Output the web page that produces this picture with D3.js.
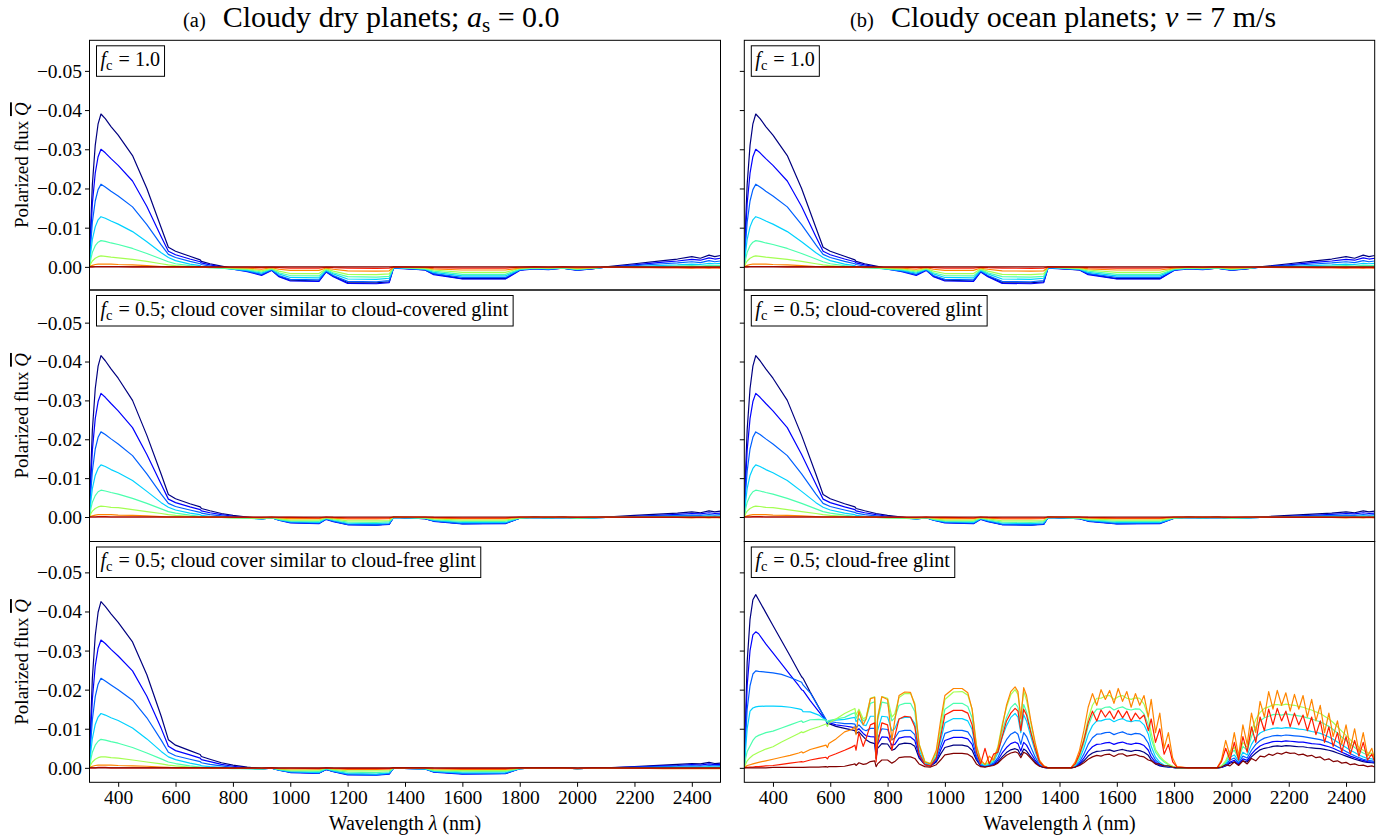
<!DOCTYPE html>
<html><head><meta charset="utf-8">
<script src="https://cdn.jsdelivr.net/npm/d3@7"></script>
<style>
body{margin:0;background:#fff}
svg text{font-family:"Liberation Serif","Times New Roman",serif;fill:#000}
</style></head>
<body><svg id="chart" width="1389" height="838"></svg>
<script>
// ---------------- DATA ----------------
const xTicks = [400,600,800,1000,1200,1400,1600,1800,2000,2200,2400];
const yTicks = [-0.05,-0.04,-0.03,-0.02,-0.01,0.00];
const seriesColors = ["#000080","#0000ff","#0061ff","#00d1ff","#4affad","#a4ff52","#ff8500","#ff1c00","#800000"];

// wavelength grid (nm) for the smoother spectra
const WL_SMOOTH = [300,305,310,320,330,340,355,375,400,450,500,550,575,600,650,686,690,720,760,800,850,900,935,960,1000,1100,1125,1150,1200,1300,1345,1360,1470,1500,1600,1750,1800,1850,1900,1950,2000,2050,2100,2200,2300,2350,2400,2430,2460,2480,2500];

const flat_zero = [0,0,0,0,0,0,0,0,0,0,0,0,0,0,0,0,0,0,0,0,0,0,0,0,0,0,0,0,0,0,0,0,0,0,0,0,0,0,0,0,0,0,0,0,0,0,0,0,0,0,0];

// f_c = 1.0 (top row)
const fc10_s1 = [0,-.012,-.021,-.031,-.0365,-.039,-.0378,-.0358,-.0336,-.0284,-.020,-.010,-.005,-.004,-.0027,-.0018,-.0014,-.0008,-.0002,.0004,.001,.002,.0008,.0024,.0034,.0036,.0012,.0024,.004,.0041,.0038,.0002,.0008,.0018,.003,.003,.0008,.0004,.0006,.0003,.0008,.0005,0,-.0008,-.0016,-.002,-.0026,-.0022,-.003,-.0026,-.0029];
const fc10_s2 = [0,-.0092,-.0162,-.0239,-.0281,-.030,-.0291,-.0276,-.0259,-.0219,-.0154,-.0077,-.004,-.0031,-.002,-.0013,-.001,-.0005,0,.0006,.0012,.0022,.0009,.0025,.0036,.0037,.0013,.0025,.0042,.0043,.004,.0003,.0008,.002,.0031,.0031,.0009,.0005,.0007,.0003,.0009,.0005,.0001,-.0005,-.0012,-.0015,-.0019,-.0017,-.0023,-.002,-.0022];
const fc10_s3 = [0,-.0065,-.0114,-.0168,-.0197,-.0211,-.0204,-.0193,-.0181,-.0153,-.0108,-.0056,-.0032,-.0024,-.0014,-.0008,-.0006,-.0002,.0002,.0006,.0011,.0019,.0008,.0022,.0032,.0033,.0011,.0022,.0037,.0038,.0035,.0002,.0007,.0017,.0027,.0027,.0008,.0004,.0006,.0003,.0008,.0005,.0001,-.0003,-.0008,-.001,-.0013,-.0011,-.0016,-.0013,-.0015];
const fc10_s4 = [0,-.004,-.007,-.0102,-.012,-.0128,-.0124,-.0117,-.0109,-.009,-.0064,-.0036,-.0024,-.0016,-.0007,-.0003,-.0001,.0001,.0003,.0006,.0009,.0016,.0006,.0018,.0027,.0028,.0009,.0018,.0031,.0032,.0029,.0002,.0006,.0014,.0023,.0023,.0007,.0004,.0005,.0003,.0007,.0004,.0001,-.0001,-.0004,-.0005,-.0007,-.0006,-.0009,-.0008,-.0009];
const fc10_s5 = [0,-.0021,-.0037,-.0054,-.0063,-.0067,-.0065,-.0061,-.0057,-.0047,-.0034,-.002,-.0013,-.0008,-.0003,0,.0001,.0002,.0003,.0005,.0007,.0013,.0005,.0015,.0022,.0023,.0007,.0015,.0025,.0026,.0024,.0001,.0005,.0011,.0019,.0019,.0006,.0003,.0004,.0002,.0006,.0003,.0001,0,-.0001,-.0002,-.0003,-.0002,-.0004,-.0003,-.0004];
const fc10_s6 = [0,-.0009,-.0015,-.0022,-.0026,-.0028,-.0027,-.0025,-.0023,-.0019,-.0014,-.0008,-.0005,-.0003,0,.0001,.0001,.0002,.0002,.0004,.0005,.001,.0004,.0011,.0017,.0017,.0005,.0011,.0019,.002,.0018,.0001,.0004,.0008,.0014,.0014,.0004,.0002,.0003,.0002,.0005,.0003,.0001,.0001,.0001,0,0,0,-.0001,0,-.0001];
const fc10_s7 = [0,-.0002,-.0004,-.0006,-.0007,-.0007,-.0007,-.0007,-.0006,-.0005,-.0003,-.0001,0,0,.0001,.0001,.0001,.0001,.0001,.0002,.0003,.0006,.0002,.0006,.0009,.0009,.0003,.0006,.001,.0011,.001,.0001,.0002,.0005,.0008,.0008,.0003,.0001,.0002,.0001,.0003,.0002,.0001,.0002,.0002,.0002,.0003,.0002,.0003,.0002,.0003];
const fc10_s8 = [0,0,0,-.0001,-.0001,-.0001,-.0001,-.0001,-.0001,0,0,0,0,0,0,0,0,.0001,.0001,.0001,.0001,.0002,.0001,.0002,.0003,.0003,.0001,.0002,.0003,.0004,.0003,0,.0001,.0002,.0003,.0003,.0001,0,.0001,0,.0001,.0001,.0001,.0001,.0002,.0002,.0002,.0002,.0002,.0002,.0002];

// f_c = 0.5, cloud-covered glint / similar cover (middle row)
const cov_s1 = [0,-.0128,-.0224,-.033,-.0388,-.0415,-.0402,-.0381,-.0357,-.030,-.021,-.011,-.0058,-.0047,-.0034,-.0026,-.0022,-.0016,-.0009,-.0004,0,.0004,.0002,.0007,.0014,.0016,.0005,.0011,.0019,.002,.0018,.0001,.0004,.001,.0017,.0016,.0003,.0001,.0002,.0001,.0003,.0002,0,-.0004,-.0008,-.001,-.0013,-.0011,-.0016,-.0013,-.0015];
const cov_s2 = [0,-.0098,-.0172,-.0253,-.0297,-.0318,-.0308,-.0292,-.0273,-.023,-.0161,-.0084,-.0046,-.0037,-.0026,-.0019,-.0016,-.0011,-.0006,-.0002,.0001,.0005,.0002,.0008,.0015,.0017,.0006,.0012,.002,.0021,.0019,.0001,.0004,.0011,.0018,.0017,.0003,.0001,.0002,.0001,.0003,.0002,.0001,-.0002,-.0005,-.0007,-.0009,-.0008,-.0011,-.0009,-.001];
const cov_s3 = [0,-.0068,-.0118,-.0175,-.0205,-.0219,-.0212,-.0201,-.0188,-.0158,-.0111,-.0059,-.0035,-.0027,-.0018,-.0012,-.001,-.0006,-.0003,0,.0002,.0005,.0002,.0008,.0014,.0016,.0005,.0011,.0019,.002,.0018,.0001,.0004,.001,.0017,.0016,.0003,.0001,.0002,.0001,.0003,.0002,.0001,-.0001,-.0003,-.0004,-.0005,-.0004,-.0006,-.0005,-.0006];
const cov_s4 = [0,-.0042,-.0073,-.0107,-.0125,-.0134,-.013,-.0122,-.0114,-.0094,-.0066,-.0037,-.0025,-.0018,-.001,-.0006,-.0004,-.0002,0,.0001,.0003,.0005,.0002,.0007,.0012,.0014,.0004,.0009,.0016,.0017,.0015,.0001,.0003,.0009,.0014,.0014,.0003,.0001,.0002,.0001,.0003,.0002,.0001,0,-.0001,-.0002,-.0002,-.0002,-.0003,-.0002,-.0003];
const cov_s5 = [0,-.0022,-.0038,-.0055,-.0065,-.0069,-.0067,-.0063,-.0059,-.0048,-.0035,-.0021,-.0014,-.001,-.0005,-.0002,-.0001,0,.0001,.0002,.0003,.0004,.0002,.0006,.001,.0011,.0003,.0007,.0013,.0014,.0012,.0001,.0003,.0007,.0011,.0011,.0002,.0001,.0002,.0001,.0002,.0002,.0001,.0001,0,0,0,0,-.0001,0,-.0001];
const cov_s6 = [0,-.0009,-.0015,-.0022,-.0026,-.0028,-.0027,-.0025,-.0024,-.0019,-.0014,-.0009,-.0006,-.0004,-.0002,0,0,.0001,.0001,.0002,.0002,.0003,.0001,.0004,.0008,.0008,.0002,.0005,.001,.001,.0009,0,.0002,.0005,.0008,.0008,.0002,.0001,.0001,.0001,.0002,.0001,.0001,.0001,.0001,.0001,.0001,.0001,0,.0001,0];
const cov_s7 = [0,-.0002,-.0003,-.0005,-.0006,-.0006,-.0006,-.0006,-.0005,-.0004,-.0003,-.0001,0,0,0,.0001,.0001,.0001,.0001,.0001,.0001,.0002,.0001,.0002,.0004,.0004,.0001,.0003,.0005,.0005,.0004,0,.0001,.0003,.0004,.0004,.0001,0,.0001,0,.0001,.0001,.0001,.0001,.0001,.0001,.0002,.0001,.0002,.0001,.0002];
const cov_s8 = [0,0,0,0,-.0001,-.0001,-.0001,0,0,0,0,0,0,0,0,0,0,0,0,.0001,.0001,.0001,0,.0001,.0001,.0002,0,.0001,.0002,.0002,.0002,0,0,.0001,.0002,.0002,0,0,0,0,.0001,0,0,.0001,.0001,.0001,.0001,.0001,.0001,.0001,.0001];

// f_c = 0.5, cover similar to cloud-free glint, dry planet (bottom-left)
const dry_s1 = [0,-.0131,-.0229,-.0338,-.0398,-.0425,-.0413,-.0394,-.0372,-.0322,-.0238,-.0132,-.0072,-.0058,-.0044,-.0034,-.0029,-.0022,-.0013,-.0007,-.0002,.0002,.0001,.0005,.0011,.0013,.0004,.0009,.0016,.0017,.0015,.0001,.0003,.001,.0015,.0014,.0002,0,.0001,0,.0002,.0001,0,-.0003,-.0007,-.0009,-.0011,-.001,-.0014,-.0011,-.0012];
const dry_s2 = [0,-.0101,-.0176,-.026,-.0306,-.0327,-.0318,-.0303,-.0286,-.0248,-.0183,-.0101,-.0055,-.0044,-.0033,-.0025,-.0021,-.0016,-.0009,-.0004,0,.0003,.0001,.0006,.0012,.0014,.0004,.001,.0018,.0019,.0016,.0001,.0003,.0011,.0016,.0015,.0002,0,.0001,0,.0002,.0001,0,-.0002,-.0005,-.0006,-.0008,-.0007,-.001,-.0008,-.0009];
const dry_s3 = [0,-.0071,-.0123,-.0182,-.0214,-.0229,-.0222,-.0212,-.02,-.0173,-.0128,-.0071,-.004,-.0031,-.0022,-.0016,-.0013,-.0009,-.0005,-.0001,.0001,.0003,.0001,.0006,.0011,.0013,.0004,.0009,.0017,.0018,.0015,.0001,.0003,.001,.0015,.0014,.0002,0,.0001,0,.0002,.0001,0,-.0001,-.0003,-.0004,-.0005,-.0004,-.0006,-.0005,-.0006];
const dry_s4 = [0,-.0043,-.0075,-.0111,-.013,-.0139,-.0135,-.0128,-.0121,-.0102,-.0074,-.0042,-.0028,-.0021,-.0012,-.0007,-.0005,-.0003,-.0001,.0001,.0002,.0003,.0001,.0005,.001,.0012,.0003,.0008,.0015,.0016,.0013,.0001,.0003,.0009,.0013,.0012,.0002,0,.0001,0,.0002,.0001,0,0,-.0001,-.0002,-.0002,-.0002,-.0003,-.0002,-.0003];
const dry_s5 = [0,-.0023,-.004,-.0058,-.0068,-.0073,-.0071,-.0067,-.0063,-.0052,-.0038,-.0023,-.0015,-.0011,-.0005,-.0002,-.0001,0,.0001,.0002,.0002,.0003,.0001,.0004,.0008,.0009,.0002,.0006,.0011,.0012,.001,.0001,.0002,.0007,.001,.0009,.0002,0,.0001,0,.0002,.0001,0,0,0,0,0,0,-.0001,0,-.0001];
const dry_s6 = [0,-.0009,-.0015,-.0022,-.0026,-.0028,-.0028,-.0026,-.0025,-.002,-.0015,-.001,-.0007,-.0005,-.0002,-.0001,0,0,.0001,.0001,.0001,.0002,.0001,.0003,.0006,.0006,.0001,.0004,.0008,.0008,.0007,0,.0001,.0005,.0007,.0007,.0001,0,.0001,0,.0001,.0001,.0001,.0001,.0001,.0001,.0001,.0001,0,.0001,0];
const dry_s7 = [0,-.0002,-.0004,-.0006,-.0007,-.0007,-.0007,-.0007,-.0006,-.0005,-.0004,-.0002,-.0001,0,0,0,0,.0001,.0001,.0001,.0001,.0001,0,.0002,.0003,.0003,.0001,.0002,.0004,.0004,.0003,0,.0001,.0003,.0004,.0004,.0001,.0001,.0001,.0001,.0002,.0001,.0001,.0001,.0002,.0002,.0002,.0002,.0002,.0002,.0002];
const dry_s8 = [0,0,0,0,-.0001,-.0001,-.0001,0,0,0,0,0,0,0,0,0,0,0,0,.0001,.0001,.0001,0,.0001,.0001,.0002,0,.0001,.0002,.0002,.0002,0,0,.0001,.0002,.0002,0,0,0,0,.0001,0,0,.0001,.0001,.0001,.0001,.0001,.0001,.0001,.0001];

// wavelength grid (nm) for the cloud-free glint ocean spectra (bottom-right)
const WL_GLINT = [300,305,310,320,330,340,350,375,400,430,460,490,500,505,530,560,585,590,595,620,650,675,686,690,700,715,725,740,755,760,765,780,800,815,825,840,860,880,895,910,930,950,970,985,1000,1030,1060,1080,1095,1110,1125,1140,1155,1170,1185,1200,1215,1230,1245,1255,1265,1275,1285,1300,1315,1330,1345,1360,
1400,1440,1455,1470,1485,1500,1515,1530,1545,1560,1575,1590,1605,1620,1635,1650,1665,1680,1695,1710,1720,1735,1750,1765,1780,1795,1810,1850,1900,1950,1965,1980,1995,2010,2025,2040,2055,2070,2085,2100,2115,2130,2145,2160,2175,2190,2205,2220,2235,2250,2265,2280,2295,2310,2325,2340,2355,2370,2385,2400,2415,2430,2445,2460,2475,2490,2500];

const glint_s1 = [0,-.014,-.027,-.038,-.043,-.0443,-.043,-.0397,-.0364,-.0325,-.0286,-.0246,-.0233,-.0229,-.0194,-.0155,-.0122,-.0112,-.0113,-.0106,-.0101,-.0097,-.0095,-.0088,-.0092,-.008,-.0072,-.0065,-.0062,-.0025,-.005,-.0062,-.0061,-.0045,-.0048,-.006,-.0063,-.0062,-.0055,-.0025,-.0008,-.0005,-.0015,-.0035,-.0052,-.0058,-.0058,-.0055,-.0045,-.002,-.0005,-.0003,-.0005,-.0008,-.0015,-.0028,-.0039,-.0046,-.0049,-.0046,-.0032,-.0048,-.0043,-.0028,-.0015,-.0005,-.0001,0,
0,0,-.0002,-.0008,-.0018,-.003,-.0038,-.0042,-.0043,-.0045,-.0046,-.0042,-.0045,-.0047,-.0044,-.0042,-.0045,-.0044,-.004,-.0032,-.002,-.001,-.0005,-.0003,-.0002,-.0001,0,0,0,0,-.0001,-.0005,-.0012,-.0015,-.0008,-.0018,-.0015,-.0028,-.0038,-.0046,-.005,-.0052,-.0055,-.0056,-.0055,-.0057,-.0056,-.0055,-.0054,-.0054,-.0052,-.0051,-.005,-.0049,-.0047,-.0045,-.0042,-.0038,-.0034,-.003,-.0026,-.0022,-.0019,-.0016,-.0014,-.0013,-.0012];
const glint_s2 = [0,-.011,-.021,-.03,-.034,-.0348,-.0343,-.0317,-.0294,-.0266,-.0238,-.021,-.02,-.0198,-.0172,-.0144,-.0121,-.0114,-.0116,-.011,-.0107,-.0104,-.0103,-.0095,-.01,-.0088,-.0082,-.008,-.0079,-.0025,-.006,-.0079,-.0078,-.0058,-.006,-.0076,-.0079,-.0079,-.007,-.003,-.0009,-.0006,-.0018,-.0045,-.007,-.0078,-.0078,-.0074,-.006,-.0025,-.0006,-.0004,-.0006,-.001,-.002,-.0038,-.0052,-.0062,-.0066,-.0062,-.0043,-.0065,-.0058,-.0038,-.002,-.0007,-.0001,0,
0,0,-.0003,-.0011,-.0025,-.0042,-.0054,-.006,-.0061,-.0064,-.0065,-.006,-.0064,-.0066,-.0062,-.006,-.0063,-.0062,-.0057,-.0045,-.0028,-.0014,-.0007,-.0004,-.0003,-.0001,0,0,0,0,-.0001,-.0006,-.0015,-.0019,-.001,-.0023,-.0019,-.0035,-.0047,-.0056,-.0061,-.0064,-.0067,-.0068,-.0067,-.0069,-.0068,-.0067,-.0066,-.0066,-.0064,-.0062,-.0061,-.006,-.0057,-.0054,-.005,-.0045,-.004,-.0035,-.003,-.0026,-.0022,-.0019,-.0016,-.0015,-.0014];
const glint_s3 = [0,-.008,-.015,-.021,-.024,-.0248,-.0247,-.0245,-.0243,-.0239,-.0231,-.0222,-.0219,-.0212,-.0192,-.0154,-.0124,-.0116,-.0119,-.0116,-.0113,-.0113,-.0112,-.0103,-.011,-.0098,-.0095,-.0101,-.0101,-.0026,-.0075,-.01,-.0098,-.0072,-.0076,-.0093,-.0096,-.0096,-.0085,-.0035,-.001,-.0007,-.0022,-.0055,-.0088,-.0096,-.0096,-.0092,-.0075,-.003,-.0008,-.0005,-.0007,-.0012,-.0026,-.0052,-.0072,-.0086,-.0092,-.0086,-.006,-.009,-.008,-.0053,-.0028,-.0009,-.0002,0,
0,0,-.0004,-.0015,-.0035,-.006,-.0077,-.0086,-.0087,-.009,-.0091,-.0085,-.0089,-.0092,-.0087,-.0085,-.0088,-.0087,-.008,-.0063,-.004,-.002,-.001,-.0005,-.0003,-.0001,0,0,0,0,-.0002,-.0008,-.002,-.0025,-.0013,-.003,-.0025,-.0045,-.006,-.007,-.0076,-.0079,-.0082,-.0083,-.0082,-.0084,-.0083,-.0082,-.0081,-.008,-.0078,-.0076,-.0074,-.0072,-.0069,-.0065,-.006,-.0054,-.0048,-.0042,-.0036,-.0031,-.0026,-.0022,-.0019,-.0018,-.0016];
const glint_s4 = [0,-.005,-.01,-.0145,-.0153,-.0156,-.0157,-.0158,-.0158,-.0157,-.0155,-.0151,-.0149,-.0144,-.0143,-.0135,-.0122,-.0117,-.012,-.0122,-.0124,-.0128,-.0129,-.0118,-.0126,-.011,-.0108,-.0132,-.0132,-.0028,-.0095,-.0132,-.013,-.0095,-.01,-.0125,-.0129,-.0129,-.0113,-.0045,-.0012,-.0008,-.0028,-.007,-.0115,-.0126,-.0126,-.012,-.0098,-.004,-.001,-.0006,-.0009,-.0016,-.0038,-.0078,-.0108,-.0129,-.0139,-.013,-.009,-.0136,-.012,-.008,-.0042,-.0013,-.0003,0,
0,0,-.0006,-.0022,-.005,-.0085,-.0108,-.012,-.012,-.0124,-.0125,-.0118,-.0123,-.0126,-.012,-.0118,-.0121,-.012,-.011,-.0086,-.0055,-.0028,-.0014,-.0007,-.0004,-.0002,0,0,0,0,-.0003,-.0011,-.0027,-.0033,-.0017,-.004,-.0033,-.006,-.0078,-.0089,-.0095,-.0098,-.0101,-.0102,-.0101,-.0103,-.0102,-.0101,-.0099,-.0098,-.0096,-.0093,-.0091,-.0088,-.0084,-.0079,-.0073,-.0066,-.0059,-.0052,-.0045,-.0039,-.0033,-.0028,-.0024,-.0023,-.002];
const glint_s5 = [0,-.0025,-.0042,-.0056,-.007,-.0079,-.0083,-.009,-.0094,-.0102,-.011,-.0118,-.012,-.0116,-.0123,-.0124,-.0122,-.0117,-.0121,-.0125,-.0129,-.0138,-.0141,-.0126,-.014,-.012,-.0125,-.0165,-.0169,-.003,-.012,-.0168,-.0165,-.012,-.0128,-.016,-.0165,-.0165,-.0144,-.0055,-.0015,-.001,-.0035,-.009,-.015,-.0165,-.0165,-.0157,-.0128,-.0052,-.0013,-.0008,-.0012,-.002,-.0045,-.0093,-.0129,-.0154,-.0165,-.0155,-.0107,-.0162,-.0143,-.0095,-.005,-.0015,-.0004,0,
0,0,-.0008,-.0028,-.0063,-.0106,-.0135,-.015,-.015,-.0155,-.0156,-.0148,-.0153,-.0156,-.015,-.0148,-.0151,-.015,-.0138,-.011,-.0075,-.004,-.0025,-.0015,-.0008,-.0003,0,0,0,0,-.0004,-.0015,-.0036,-.0045,-.0023,-.0055,-.0045,-.008,-.0105,-.012,-.0128,-.0132,-.0136,-.0137,-.0135,-.0138,-.0136,-.0135,-.0133,-.0131,-.0128,-.0125,-.0121,-.0118,-.0112,-.0106,-.0098,-.0089,-.0079,-.007,-.0061,-.0052,-.0044,-.0038,-.0033,-.0031,-.0027];
const glint_s6 = [0,-.001,-.0018,-.0026,-.0032,-.0036,-.004,-.0048,-.0054,-.0066,-.0077,-.0088,-.0092,-.009,-.0098,-.0105,-.0112,-.0106,-.0115,-.0125,-.0139,-.0148,-.0152,-.0135,-.015,-.0125,-.013,-.0178,-.0182,-.003,-.013,-.0182,-.0178,-.013,-.0138,-.018,-.019,-.019,-.0165,-.0062,-.0017,-.0011,-.004,-.0105,-.0175,-.0194,-.0195,-.0186,-.015,-.006,-.0015,-.0009,-.0014,-.0024,-.0054,-.0112,-.0155,-.0187,-.02,-.0188,-.013,-.0196,-.0173,-.0115,-.006,-.0018,-.0005,0,
0,0,-.001,-.0034,-.0075,-.0125,-.016,-.0178,-.0178,-.0184,-.0185,-.0175,-.0182,-.0185,-.0178,-.0175,-.0179,-.0178,-.0163,-.013,-.0089,-.0047,-.003,-.0018,-.001,-.0004,0,0,0,0,-.0005,-.0018,-.0043,-.0053,-.0027,-.0065,-.0053,-.0095,-.0124,-.0142,-.0152,-.0156,-.0161,-.0162,-.016,-.0163,-.0161,-.016,-.0157,-.0155,-.0151,-.0148,-.0143,-.0139,-.0132,-.0125,-.0116,-.0105,-.0094,-.0083,-.0072,-.0062,-.0053,-.0045,-.0039,-.0037,-.0032];
const glint_s7 = [0,-.0003,-.0006,-.0008,-.001,-.0012,-.0014,-.0018,-.0022,-.0027,-.0032,-.0038,-.0041,-.0038,-.0047,-.0053,-.0058,-.0052,-.0062,-.0074,-.0092,-.0098,-.0105,-.0085,-.0145,-.011,-.0125,-.0177,-.018,-.0025,-.0125,-.0182,-.0175,-.0071,-.012,-.0185,-.0194,-.0193,-.016,-.006,-.0015,-.001,-.0045,-.012,-.0185,-.0203,-.0203,-.0192,-.015,-.0055,-.002,-.0008,-.003,-.002,-.005,-.0105,-.016,-.0195,-.0207,-.0195,-.0125,-.0205,-.0185,-.012,-.0065,-.002,-.0005,0,
0,0,-.0015,-.0045,-.0095,-.0155,-.019,-.016,-.02,-.0175,-.0198,-.0165,-.0203,-.017,-.0195,-.0155,-.019,-.016,-.0185,-.013,-.0175,-.009,-.014,-.005,-.009,-.0025,-.0003,0,0,0,-.002,-.007,-.003,-.009,-.003,-.011,-.006,-.014,-.009,-.017,-.013,-.0195,-.015,-.0198,-.016,-.0192,-.0145,-.0188,-.015,-.0185,-.013,-.0175,-.012,-.016,-.009,-.014,-.008,-.012,-.006,-.011,-.005,-.01,-.004,-.009,-.003,-.005,-.002];
const glint_s8 = [0,-.0001,-.0001,-.0002,-.0002,-.0003,-.0003,-.0005,-.0006,-.0009,-.0012,-.0015,-.0016,-.0015,-.002,-.0024,-.0027,-.0023,-.0029,-.0036,-.0045,-.0053,-.0058,-.0045,-.009,-.0055,-.0075,-.011,-.0115,-.0015,-.006,-.0115,-.011,-.0045,-.008,-.0125,-.0132,-.013,-.0105,-.0035,-.0008,-.0005,-.0025,-.008,-.0135,-.0147,-.0147,-.014,-.011,-.004,-.001,-.005,-.001,-.0035,-.004,-.008,-.012,-.014,-.0152,-.0145,-.0095,-.015,-.0135,-.009,-.005,-.0015,-.0004,0,
0,0,-.001,-.0035,-.007,-.0115,-.0145,-.012,-.0148,-.013,-.0145,-.0125,-.0147,-.0128,-.0145,-.012,-.014,-.0125,-.0135,-.0095,-.0125,-.0065,-.01,-.0035,-.006,-.0015,-.0002,0,0,0,-.0015,-.005,-.002,-.0065,-.002,-.008,-.004,-.0105,-.0065,-.013,-.0095,-.015,-.011,-.0152,-.012,-.0145,-.0105,-.014,-.011,-.0135,-.0095,-.013,-.0085,-.012,-.0065,-.0105,-.0055,-.009,-.004,-.008,-.0035,-.007,-.003,-.0065,-.002,-.0035,-.0015];
const glint_s9 = [0,0,0,0,0,0,0,0,-.0001,-.0001,-.0001,-.0001,-.0001,-.0001,-.0002,-.0002,-.0003,-.0002,-.0003,-.0003,-.0004,-.0008,-.001,-.0006,-.0013,-.0009,-.001,-.0016,-.0018,-.0003,-.001,-.002,-.002,-.0012,-.0016,-.0026,-.0028,-.0028,-.0024,-.001,-.0003,-.0002,-.0008,-.002,-.0033,-.0037,-.0037,-.0035,-.0028,-.001,-.0003,-.0002,-.0004,-.0006,-.0012,-.0023,-.0032,-.0038,-.0041,-.0038,-.0026,-.004,-.0036,-.0024,-.0012,-.0004,-.0001,0,
0,0,-.0002,-.0006,-.0013,-.0022,-.0028,-.0032,-.003,-.0034,-.0035,-.0029,-.0035,-.0036,-.003,-.0032,-.0034,-.003,-.0028,-.002,-.0018,-.001,-.001,-.0005,-.0005,-.0002,0,0,0,0,-.0002,-.0008,-.0005,-.0015,-.0006,-.0018,-.001,-.0024,-.0018,-.003,-.0028,-.0035,-.0032,-.0038,-.0035,-.004,-.0037,-.0038,-.0033,-.0035,-.003,-.0032,-.0026,-.0028,-.002,-.0023,-.0016,-.0018,-.0012,-.0014,-.0008,-.001,-.0006,-.0007,-.0003,-.0005,-.0002];

// ---------------- LAYOUT ----------------
const colX = [[89.5,720.5],[744.3,1374.7]];
const rowY = [[40.3,290],[290,541.5],[541.5,782.3]];
const rowDomains = [[0.0059,-0.0578],[0.0063,-0.0584],[0.0037,-0.0579]];
const FS_TICK = 19.5, FS_BOX = 20.1, FS_YLAB = 19, FS_XLAB = 20;

const panels = [
  {c:0,r:0,wl:WL_SMOOTH,s:[fc10_s1,fc10_s2,fc10_s3,fc10_s4,fc10_s5,fc10_s6,fc10_s7,fc10_s8,flat_zero],rest:" = 1.0"},
  {c:0,r:1,wl:WL_SMOOTH,s:[cov_s1,cov_s2,cov_s3,cov_s4,cov_s5,cov_s6,cov_s7,cov_s8,flat_zero],rest:" = 0.5; cloud cover similar to cloud-covered glint"},
  {c:0,r:2,wl:WL_SMOOTH,s:[dry_s1,dry_s2,dry_s3,dry_s4,dry_s5,dry_s6,dry_s7,dry_s8,flat_zero],rest:" = 0.5; cloud cover similar to cloud-free glint"},
  {c:1,r:0,wl:WL_SMOOTH,s:[fc10_s1,fc10_s2,fc10_s3,fc10_s4,fc10_s5,fc10_s6,fc10_s7,fc10_s8,flat_zero],rest:" = 1.0"},
  {c:1,r:1,wl:WL_SMOOTH,s:[cov_s1,cov_s2,cov_s3,cov_s4,cov_s5,cov_s6,cov_s7,cov_s8,flat_zero],rest:" = 0.5; cloud-covered glint"},
  {c:1,r:2,wl:WL_GLINT,s:[glint_s1,glint_s2,glint_s3,glint_s4,glint_s5,glint_s6,glint_s7,glint_s8,glint_s9],rest:" = 0.5; cloud-free glint"}
];

const svg = d3.select("#chart");
const defs = svg.append("defs");

panels.forEach((p,i)=>{
  const [x0,x1] = colX[p.c], [y0,y1] = rowY[p.r];
  const x = d3.scaleLinear().domain([300,2500]).range([x0,x1]);
  const y = d3.scaleLinear().domain(rowDomains[p.r]).range([y1,y0]);
  const g = svg.append("g");
  defs.append("clipPath").attr("id","clip"+i).append("rect")
    .attr("x",x0).attr("y",y0).attr("width",x1-x0).attr("height",y1-y0);
  const lg = g.append("g").attr("clip-path",`url(#clip${i})`);
  const line = d3.line().x(d=>x(d[0])).y(d=>y(d[1]));
  p.s.forEach((ser,k)=>{
    lg.append("path").datum(p.wl.map((w,j)=>[w,ser[j]]))
      .attr("d",line).attr("fill","none").attr("stroke",seriesColors[k])
      .attr("stroke-width",1.2).attr("stroke-linejoin","round");
  });
  g.append("rect").attr("x",x0).attr("y",y0).attr("width",x1-x0).attr("height",y1-y0)
    .attr("fill","none").attr("stroke","#000").attr("stroke-width",1);
  const ya = d3.axisLeft(y).tickValues(yTicks).tickSize(4.5).tickSizeOuter(0)
     .tickFormat(p.c===0 ? (v=>d3.format(".2f")(v).replace("-","\u2212")) : (()=> ""));
  const yg = g.append("g").attr("transform",`translate(${x0},0)`).call(ya);
  yg.select(".domain").remove();
  yg.selectAll("text").attr("font-size",FS_TICK).attr("font-family","Liberation Serif").attr("dy","0.33em").attr("x",-7.5);
  if(p.r===2){
    const xa = d3.axisBottom(x).tickValues(xTicks).tickFormat(d3.format("d")).tickSize(4.5).tickSizeOuter(0);
    const xg = g.append("g").attr("transform",`translate(0,${y1})`).call(xa);
    xg.select(".domain").remove();
    xg.selectAll("text").attr("font-size",FS_TICK).attr("font-family","Liberation Serif").attr("y",7.5).attr("dy","0.71em");
    const xl = g.append("text").attr("x",(x0+x1)/2).attr("y",830).attr("text-anchor","middle").attr("font-size",FS_XLAB);
    xl.append("tspan").text("Wavelength ");
    xl.append("tspan").attr("font-style","italic").text("\u03bb");
    xl.append("tspan").text(" (nm)");
  }
  const lab = g.append("g");
  const box = lab.append("rect");
  const t = lab.append("text").attr("x",x0+11).attr("y",y0+25.5).attr("font-size",FS_BOX);
  t.append("tspan").attr("font-style","italic").text("f");
  t.append("tspan").attr("font-size",FS_BOX*0.72).attr("dy",4).text("c");
  t.append("tspan").attr("dy",-4).attr("dx",1).text(p.rest);
  const bb = t.node().getBBox();
  box.attr("x",x0+7).attr("y",y0+5.5).attr("width",bb.width+8.5).attr("height",30.5)
    .attr("fill","#fff").attr("stroke","#000").attr("stroke-width",1);
});

rowY.forEach(([y0,y1])=>{
  const cy=(y0+y1)/2;
  const t = svg.append("text").attr("transform",`translate(28,${cy}) rotate(-90)`).attr("text-anchor","middle").attr("font-size",FS_YLAB);
  t.append("tspan").text("Polarized flux ");
  t.append("tspan").attr("font-style","italic").style("text-decoration","overline").text("Q");
});

function title(xStart, tag, build){
  const t = svg.append("text").attr("x",xStart).attr("y",27).attr("text-anchor","start");
  t.append("tspan").attr("font-size",20.5).text(tag);
  t.append("tspan").attr("font-size",30).attr("dx",17).text("Cloudy ");
  build(t);
}
title(183,"(a)",t=>{
  t.append("tspan").attr("font-size",30).text("dry planets; ");
  t.append("tspan").attr("font-size",30).attr("font-style","italic").text("a");
  t.append("tspan").attr("font-size",21).attr("dy",5).text("s");
  t.append("tspan").attr("font-size",30).attr("dy",-5).text(" = 0.0");
});
title(850,"(b)",t=>{
  t.append("tspan").attr("font-size",30).text("ocean planets; ");
  t.append("tspan").attr("font-size",30).attr("font-style","italic").text("v");
  t.append("tspan").attr("font-size",30).text(" = 7 m/s");
});
</script></body></html>
